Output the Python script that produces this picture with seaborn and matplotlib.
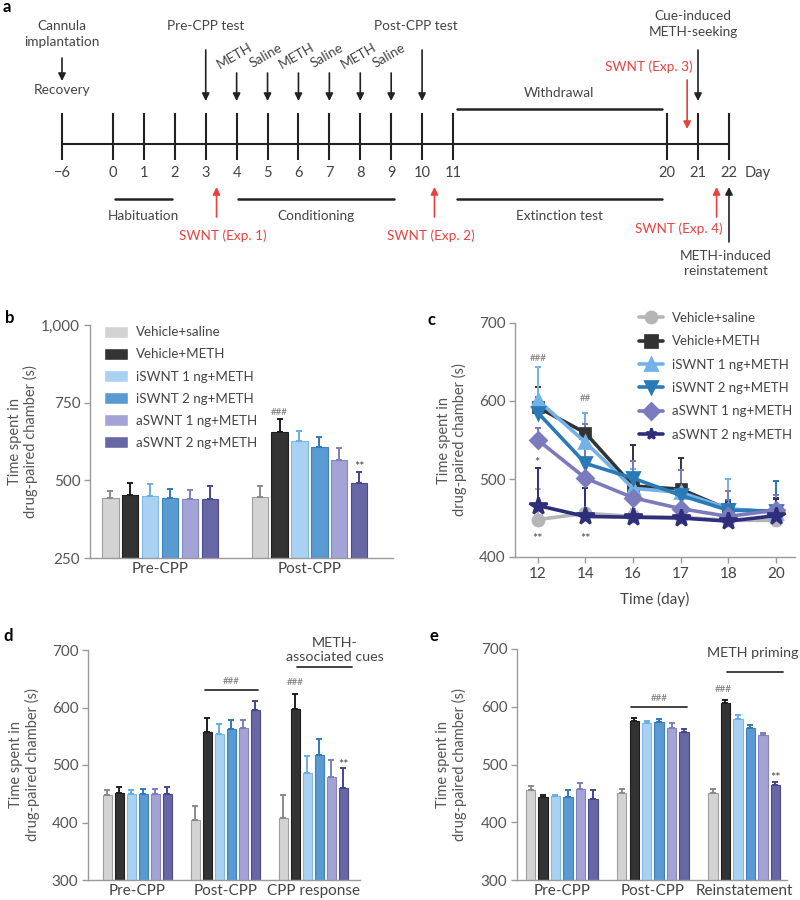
import numpy as np
import pandas as pd
import matplotlib
matplotlib.use("Agg")
import matplotlib.pyplot as plt
import seaborn as sns

# ---------------- data ----------------
treatments = ["Vehicle+saline", "Vehicle+METH", "iSWNT 1 ng+METH",
              "iSWNT 2 ng+METH", "aSWNT 1 ng+METH", "aSWNT 2 ng+METH"]

# panel b
b_groups = ["Pre-CPP", "Post-CPP"]
b_pre = [443, 454, 448, 444, 440, 440]
b_pre_err = [24, 37, 40, 29, 30, 42]
b_post = [446, 657, 626, 607, 566, 491]
b_post_err = [36, 40, 32, 34, 39, 37]

# panel c
c_days = ["12", "14", "16", "17", "18", "20"]
c_saline = [448, 456, 452, 451, 447, 447]
c_meth = [592, 559, 491, 487, 461, 458]
c_i1 = [601, 547, 488, 483, 462, 457]
c_i2 = [585, 520, 501, 479, 460, 459]
c_a1 = [550, 501, 476, 462, 452, 460]
c_a2 = [466, 452, 451, 450, 446, 453]
c_saline_err = [39, 32, 10, 8, 8, 6]
c_meth_err = [26, 26, 52, 40, 12, 18]
c_i1_err = [42, 38, 25, 28, 38, 40]
c_i2_err = [20, 28, 22, 10, 13, 38]
c_a1_err = [16, 69, 47, 50, 32, 20]
c_a2_err = [48, 36, 40, 35, 25, 22]

# panel d
d_groups = ["Pre-CPP", "Post-CPP", "CPP response"]
d_pre = [448, 451, 449, 450, 449, 450]
d_pre_err = [9, 10, 8, 8, 10, 11]
d_post = [405, 558, 554, 563, 564, 595]
d_post_err = [24, 23, 17, 16, 15, 17]
d_cpp = [407, 597, 486, 517, 480, 460]
d_cpp_err = [40, 27, 30, 28, 29, 34]

# panel e
e_groups = ["Pre-CPP", "Post-CPP", "Reinstatement"]
e_pre = [455, 443, 445, 443, 458, 440]
e_pre_err = [7, 5, 3, 12, 10, 15]
e_post = [450, 576, 571, 573, 564, 556]
e_post_err = [8, 4, 5, 5, 7, 6]
e_rein = [450, 607, 579, 564, 551, 464]
e_rein_err = [7, 4, 6, 5, 3, 5]

# panel a timeline
timeline_days = [-6, 0, 1, 2, 3, 4, 5, 6, 7, 8, 9, 10, 11, 20, 21, 22]
conditioning = [(4, "METH"), (5, "Saline"), (6, "METH"),
                (7, "Saline"), (8, "METH"), (9, "Saline")]
swnt_days = [3.35, 10.4, 20.65, 21.6]

# ---------------- style ----------------
sns.set_theme(style="white")
plt.rcParams["font.family"] = ["Lato", "DejaVu Sans"]

bar_colors = ["#d3d3d3", "#333333", "#a9d1f2", "#5a9ad3", "#a3a3d6", "#6767a6"]
edge_colors = ["#9e9e9e", "#1e1e1e", "#80b9e6", "#3f80c0", "#8585c4", "#4a4a8e"]
err_colors = ["#8a8a8a", "#1e1e1e", "#6aaee6", "#2f79b8", "#7e7ebd", "#45458c"]
line_colors = ["#b5b5b5", "#333333", "#72b2e8", "#2a7ab8", "#7a7abd", "#2e2e7c"]
markers = ["o", "s", "^", "v", "D", "*"]
msizes = [8, 7, 9, 9, 8, 13]

TXT = "#444444"
GREY = "#9a9a9a"
RED = "#e8423f"

fig = plt.figure(figsize=(8, 9), dpi=100)


def style_axes(ax, xticks_len=0):
    sns.despine(ax=ax)
    for s in ("left", "bottom"):
        ax.spines[s].set_color(GREY)
        ax.spines[s].set_linewidth(1.0)
    ax.tick_params(axis="y", length=4, width=1, color=GREY, labelsize=11,
                   labelcolor="#555555", pad=3, left=True)
    ax.tick_params(axis="x", length=xticks_len, width=1, color=GREY,
                   labelsize=11, labelcolor="#444444", pad=3,
                   bottom=xticks_len > 0)


def bar_panel(ax, groups, means, errs, width, gap):
    rows = []
    for g, m_list, e_list in zip(groups, means, errs):
        for t, m, e in zip(treatments, m_list, e_list):
            rows.append(dict(group=g, treatment=t, value=m, err=e))
    df = pd.DataFrame(rows)
    sns.barplot(data=df, x="group", y="value", hue="treatment",
                order=groups, hue_order=treatments, palette=bar_colors,
                saturation=1, errorbar=None, width=width, gap=gap, ax=ax)
    for cont, t, ec, erc in zip(ax.containers, treatments, edge_colors, err_colors):
        sub = df[df.treatment == t].set_index("group").loc[groups]
        for p, e in zip(cont, sub["err"]):
            p.set_edgecolor(ec)
            p.set_linewidth(0.8)
            x = p.get_x() + p.get_width() / 2
            ax.errorbar(x, p.get_height(), yerr=[[0], [e]], color=erc,
                        capsize=2.2, lw=1.4, capthick=1.4, zorder=1)
    return df


def bar_center(ax, hue_idx, grp_idx):
    p = ax.containers[hue_idx][grp_idx]
    return p.get_x() + p.get_width() / 2, p.get_height()


def ylab(ax, xfrac):
    ax.set_ylabel("Time spent in\ndrug-paired chamber (s)", fontsize=10.5,
                  color="#555555", linespacing=1.15)
    ax.yaxis.set_label_coords(xfrac, 0.5)


def stars(ax, x, y, s="**"):
    # asterisks sit high in the glyph box; anchor by their visual centre
    ax.text(x, y, s, ha="center", va="center_baseline", fontsize=9,
            color="#444444")


# ---------------- panel a ----------------
axa = fig.add_axes([0, 1 - 300 / 900, 1, 300 / 900])
axa.set_xlim(0, 800)
axa.set_ylim(300, 0)
axa.axis("off")

day_anchor = [-6, 0, 11, 20, 22]
px_anchor = [62, 113, 453, 667, 729]


def X(d):
    return float(np.interp(d, day_anchor, px_anchor))


def arrow(x, y_tail, y_tip, color="#222222"):
    axa.annotate("", xy=(x, y_tip), xytext=(x, y_tail),
                 arrowprops=dict(arrowstyle="-|>", color=color, lw=1.2,
                                 mutation_scale=11, shrinkA=0, shrinkB=0))


fs = 9.8
axa.plot([X(-6), X(22)], [144, 144], color="#222222", lw=1.5)
axa.vlines([X(d) for d in timeline_days], 113, 160, color="#222222", lw=1.5)
for d in timeline_days:
    lab = "\u2212" + str(abs(d)) if d < 0 else str(d)
    axa.text(X(d), 173, lab, ha="center", va="center", fontsize=10.5, color=TXT)
axa.text(745, 173, "Day", ha="left", va="center", fontsize=10.5, color=TXT)

axa.text(X(-6), 34, "Cannula\nimplantation", ha="center", va="center",
         fontsize=fs, color=TXT, linespacing=1.3)
arrow(X(-6), 58, 81)
axa.text(X(-6), 90, "Recovery", ha="center", va="center", fontsize=fs, color=TXT)

axa.text(X(3), 26, "Pre-CPP test", ha="center", va="center", fontsize=fs, color=TXT)
arrow(X(3), 50, 101)
axa.text(X(10) - 6, 26, "Post-CPP test", ha="center", va="center", fontsize=fs, color=TXT)
arrow(X(10), 50, 101)
for d, lab in conditioning:
    arrow(X(d), 73, 101)
    axa.text(X(d) - 2, 56, lab, ha="center", va="center", fontsize=fs,
             color=TXT, rotation=30)

axa.text(X(21) - 5, 24, "Cue-induced\nMETH-seeking", ha="center", va="center",
         fontsize=fs, color=TXT, linespacing=1.3)
arrow(X(21), 50, 101)
axa.text(X(swnt_days[2]) - 38, 67, "SWNT (Exp. 3)", ha="center", va="center",
         fontsize=fs, color=RED)
arrow(X(swnt_days[2]), 80, 129, RED)

axa.plot([X(11.15), X(19.8)], [109, 109], color="#222222", lw=1.8)
axa.text((X(11.15) + X(19.8)) / 2, 93, "Withdrawal", ha="center", va="center",
         fontsize=fs, color=TXT)

periods = [(0.05, 1.9, "Habituation"), (4.05, 9.1, "Conditioning"),
           (11.15, 19.8, "Extinction test")]
for d0, d1, lab in periods:
    axa.plot([X(d0), X(d1)], [199, 199], color="#222222", lw=1.8)
    axa.text((X(d0) + X(d1)) / 2, 216, lab, ha="center", va="center",
             fontsize=fs, color=TXT)

for d, lab, dx, ty in [(swnt_days[0], "SWNT (Exp. 1)", 6, 236),
                       (swnt_days[1], "SWNT (Exp. 2)", -4, 236),
                       (swnt_days[3], "SWNT (Exp. 4)", -38, 229)]:
    arrow(X(d), 217, 187, RED)
    axa.text(X(d) + dx, ty, lab, ha="center", va="center", fontsize=fs, color=RED)
arrow(X(22), 242, 187)
axa.text(X(22) - 3, 264, "METH-induced\nreinstatement", ha="center", va="center",
         fontsize=fs, color=TXT, linespacing=1.3)

# panel letters
for lx, ly, letter in [(3, 7, "a"), (5, 318, "b"), (428, 320, "c"),
                       (3, 636, "d"), (430, 636, "e")]:
    fig.text(lx / 800, 1 - ly / 900, letter, fontsize=12, fontweight="bold",
             color="black", ha="left", va="center")

# ---------------- panel b ----------------
axb = fig.add_axes([90 / 800, 1 - 558 / 900, 303 / 800, 233 / 900])
bar_panel(axb, b_groups, [b_pre, b_post], [b_pre_err, b_post_err], 0.8, 0.18)
axb.set_ylim(250, 1000)
axb.set_xlim(-0.47, 1.56)
axb.set_yticks([250, 500, 750, 1000])
axb.set_yticklabels(["250", "500", "750", "1,000"])
axb.set_xlabel("")
style_axes(axb)
ylab(axb, -0.17)
h, l = axb.get_legend_handles_labels()
axb.legend(h, l, loc="upper left", bbox_to_anchor=(0.03, 1.02), frameon=False,
           fontsize=9.6, handlelength=1.8, handleheight=1.05, labelspacing=0.7,
           handletextpad=0.6, borderaxespad=0, labelcolor="#444444")
x, y = bar_center(axb, 1, 1)
axb.text(x, y + 40 + 22, "###", ha="center", va="center", fontsize=7, color="#777777")
x, y = bar_center(axb, 5, 1)
stars(axb, x, y + 37 + 18)

# ---------------- panel c ----------------
axc = fig.add_axes([515 / 800, 1 - 557 / 900, 280 / 800, 234 / 900])
c_series = [c_saline, c_meth, c_i1, c_i2, c_a1, c_a2]
c_errs = [c_saline_err, c_meth_err, c_i1_err, c_i2_err, c_a1_err, c_a2_err]
rows = []
for t, vals in zip(treatments, c_series):
    for d, v in zip(c_days, vals):
        rows.append(dict(day=d, treatment=t, value=v))
dfc = pd.DataFrame(rows)
sns.pointplot(data=dfc, x="day", y="value", hue="treatment", order=c_days,
              hue_order=treatments, palette=line_colors, markers=markers,
              linestyles="-", errorbar=None, dodge=False, ax=axc,
              linewidth=2.6, markersize=8)
for line, ms, col, errs in zip(axc.lines[:6], msizes, line_colors, c_errs):
    line.set_markersize(ms)
    line.set_markeredgecolor(col)
    xs = line.get_xdata()
    ys = line.get_ydata()
    axc.errorbar(xs, ys, yerr=[np.zeros(len(errs)), errs], fmt="none",
                 ecolor=col, capsize=2.5, lw=1.4, capthick=1.4, zorder=1)
axc.set_ylim(400, 700)
axc.set_xlim(-0.48, 5.4)
axc.set_yticks([400, 500, 600, 700])
axc.set_xlabel("Time (day)", fontsize=11, color="#444444", labelpad=8)
style_axes(axc, xticks_len=4)
ylab(axc, -0.17)
h, l = axc.get_legend_handles_labels()
axc.legend(h, l, loc="upper left", bbox_to_anchor=(0.425, 1.07), frameon=False,
           fontsize=9.5, handlelength=1.8, labelspacing=0.86, handletextpad=0.7,
           borderaxespad=0, labelcolor="#444444")
pos = axc.lines[0].get_xdata()
axc.text(pos[0], 654, "###", ha="center", va="center", fontsize=7, color="#777777")
axc.text(pos[1], 603, "##", ha="center", va="center", fontsize=7, color="#777777")
stars(axc, pos[0] - 0.02, 522, "*")
stars(axc, pos[0], 424)
stars(axc, pos[1], 424)

# ---------------- panel d ----------------
axd = fig.add_axes([88 / 800, 1 - 880 / 900, 272 / 800, 230 / 900])
bar_panel(axd, d_groups, [d_pre, d_post, d_cpp], [d_pre_err, d_post_err, d_cpp_err],
          0.82, 0.22)
axd.set_ylim(300, 700)
axd.set_xlim(-0.56, 2.53)
axd.set_yticks([300, 400, 500, 600, 700])
axd.set_xlabel("")
axd.get_legend().remove()
style_axes(axd)
ylab(axd, -0.176)
x1, _ = bar_center(axd, 1, 1)
x2, _ = bar_center(axd, 5, 1)
axd.plot([x1 - 0.03, x2 + 0.03], [631, 631], color="#333333", lw=1.3)
axd.text((x1 + x2) / 2, 646, "###", ha="center", va="center", fontsize=7, color="#777777")
x, y = bar_center(axd, 1, 2)
axd.text(x, 643, "###", ha="center", va="center", fontsize=7, color="#777777")
xa, _ = bar_center(axd, 1, 2)
xb, _ = bar_center(axd, 5, 2)
axd.plot([xa + 0.02, xb + 0.1], [671, 671], color="#333333", lw=1.3, clip_on=False)
axd.text(xb - 0.1, 700, "METH-\nassociated cues", ha="center", va="center",
         fontsize=10.3, color="#444444", linespacing=1.15, clip_on=False)
x, y = bar_center(axd, 5, 2)
stars(axd, x, 502)

# ---------------- panel e ----------------
axe = fig.add_axes([517 / 800, 1 - 880 / 900, 270 / 800, 231 / 900])
bar_panel(axe, e_groups, [e_pre, e_post, e_rein], [e_pre_err, e_post_err, e_rein_err],
          0.82, 0.25)
axe.set_ylim(300, 700)
axe.set_xlim(-0.49, 2.47)
axe.set_yticks([300, 400, 500, 600, 700])
axe.set_xlabel("")
axe.get_legend().remove()
style_axes(axe)
ylab(axe, -0.185)
x1, _ = bar_center(axe, 1, 1)
x2, _ = bar_center(axe, 5, 1)
axe.plot([x1 - 0.03, x2 + 0.03], [599, 599], color="#333333", lw=1.3)
axe.text((x1 + x2) / 2, 615, "###", ha="center", va="center", fontsize=7, color="#777777")
x, y = bar_center(axe, 1, 2)
axe.text(x - 0.03, 630, "###", ha="center", va="center", fontsize=7, color="#777777")
xa, _ = bar_center(axe, 1, 2)
xb, _ = bar_center(axe, 5, 2)
axe.plot([xa + 0.02, xb + 0.08], [660, 660], color="#333333", lw=1.3)
axe.text((xa + xb) / 2 + 0.03, 693, "METH priming", ha="center", va="center",
         fontsize=10.3, color="#444444", clip_on=False)
x, y = bar_center(axe, 5, 2)
stars(axe, x, 478)

fig.savefig("out.png", dpi=100)
